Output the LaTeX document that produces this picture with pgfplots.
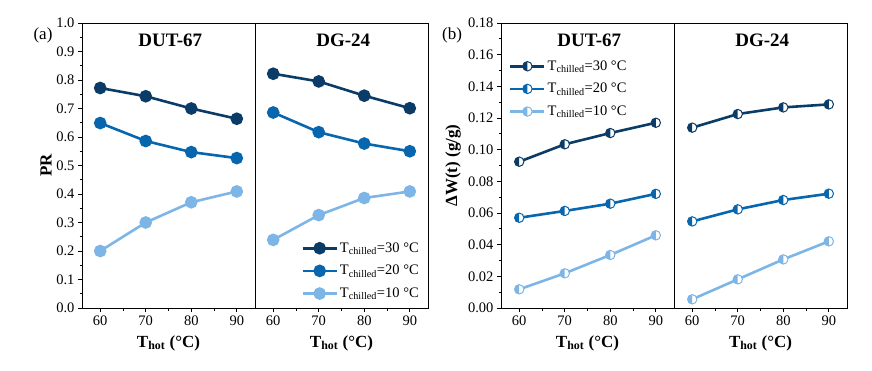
\documentclass[border=0pt]{standalone}
\usepackage{fontspec}
\setmainfont{Liberation Serif}
\usepackage{pgfplots}
\pgfplotsset{compat=1.18}
\usetikzlibrary{plotmarks}
\definecolor{cdark}{HTML}{0B3C68}
\definecolor{cmid}{HTML}{0866AE}
\definecolor{clight}{HTML}{7DB6E6}
\pgfdeclareplotmark{lhalf}{%
  \begin{pgfscope}
  \pgfsetfillcolor{white}
  \pgfpathcircle{\pgfpointorigin}{\pgfplotmarksize}
  \pgfusepath{fill}
  \end{pgfscope}
  \pgfpathmoveto{\pgfqpoint{0pt}{\pgfplotmarksize}}
  \pgfpatharc{90}{270}{\pgfplotmarksize}
  \pgfpathclose
  \pgfusepath{fill}
  \pgfpathcircle{\pgfpointorigin}{\pgfplotmarksize}
  \pgfusepath{stroke}
}
\pgfplotsset{
  sub/.style={scale only axis, width=173pt, height=285pt, xmin=56, xmax=94,
    xtick={60,70,80,90}, minor x tick num=1, tick align=outside,
    xtick pos=left, ytick pos=left,
    major tick length=4pt, minor tick length=2.5pt,
    tick label style={font=\fontsize{14.5}{16}\selectfont},
    /pgf/number format/assume math mode=true,
    axis line style={line width=0.8pt},
    every tick/.style={black, line width=0.8pt},
    xlabel={\textbf{T\textsubscript{hot} (°C)}},
    xlabel style={font=\fontsize{17}{18}\selectfont, at={(axis description cs:0.5,-0.123)}, anchor=center},
    legend style={draw=none, fill=none, font=\fontsize{14.5}{16}\selectfont, row sep=7.5pt, inner sep=1pt},
    legend cell align=left,
    legend image code/.code={\draw[mark repeat=2,mark phase=2] plot coordinates {(0pt,0pt) (17pt,0pt) (34pt,0pt)};},
  },
  pa/.style={sub, ymin=0, ymax=1, ytick={0,0.1,...,1.0}, minor y tick num=1,
    yticklabel style={/pgf/number format/.cd, fixed, fixed zerofill, precision=1}},
  pb/.style={sub, ymin=0, ymax=0.18, ytick={0,0.02,...,0.181}, minor y tick num=1,
    yticklabel style={/pgf/number format/.cd, fixed, fixed zerofill, precision=2}},
  noy/.style={ytick=\empty, minor ytick=\empty},
  sa/.style={line width=2.6pt, mark=*, mark size=5pt, mark options={solid}},
  sb/.style={line width=2.6pt, mark=lhalf, mark size=4.7pt, mark options={solid, line width=1pt, fill=#1, draw=#1}, color=#1},
}
\newcommand{\ttl}[1]{\node[font=\bfseries\fontsize{19}{20}\selectfont] at (rel axis cs:0.51,0.94) {#1};}
\begin{document}
\begin{tikzpicture}
\path[use as bounding box] (0pt,0pt) rectangle (872pt,-370pt);
% panel (a)
\node[font=\fontsize{17}{18}\selectfont] at (43pt,-35pt) {(a)};
\begin{axis}[pa, at={(82pt,-308pt)}, anchor=south west,
  ylabel={\textbf{PR}}, ylabel style={font=\fontsize{17}{18}\selectfont, at={(axis description cs:-0.208,0.5)}, anchor=center}]
\addplot[sa, cdark] coordinates {(60,0.772)(70,0.743)(80,0.700)(90,0.664)};
\addplot[sa, cmid] coordinates {(60,0.649)(70,0.586)(80,0.547)(90,0.526)};
\addplot[sa, clight] coordinates {(60,0.200)(70,0.300)(80,0.371)(90,0.409)};
\ttl{DUT-67}
\end{axis}
\begin{axis}[pa, noy, at={(255pt,-308pt)}, anchor=south west,
  legend style={at={(axis description cs:0.965,0.02)}, anchor=south east}]
\addplot[sa, cdark] coordinates {(60,0.822)(70,0.795)(80,0.745)(90,0.701)};
\addplot[sa, cmid] coordinates {(60,0.686)(70,0.617)(80,0.577)(90,0.550)};
\addplot[sa, clight] coordinates {(60,0.239)(70,0.326)(80,0.386)(90,0.409)};
\legend{T\textsubscript{chilled}=30 °C, T\textsubscript{chilled}=20 °C, T\textsubscript{chilled}=10 °C}
\ttl{DG-24}
\end{axis}
% panel (b)
\node[font=\fontsize{17}{18}\selectfont] at (452pt,-35pt) {(b)};
\begin{axis}[pb, at={(501pt,-308pt)}, anchor=south west,
  ylabel={\textbf{ΔW(t) (g/g)}}, ylabel style={font=\fontsize{17}{18}\selectfont, at={(axis description cs:-0.277,0.5)}, anchor=center},
  legend style={at={(axis description cs:0.04,0.879)}, anchor=north west}]
\addplot[sb=cdark] coordinates {(60,0.0924)(70,0.1034)(80,0.1105)(90,0.1170)};
\addplot[sb=cmid] coordinates {(60,0.0570)(70,0.0613)(80,0.0659)(90,0.0721)};
\addplot[sb=clight] coordinates {(60,0.0118)(70,0.0219)(80,0.0335)(90,0.0459)};
\legend{T\textsubscript{chilled}=30 °C, T\textsubscript{chilled}=20 °C, T\textsubscript{chilled}=10 °C}
\ttl{DUT-67}
\end{axis}
\begin{axis}[pb, noy, at={(674pt,-308pt)}, anchor=south west]
\addplot[sb=cdark] coordinates {(60,0.1139)(70,0.1225)(80,0.1267)(90,0.1286)};
\addplot[sb=cmid] coordinates {(60,0.0547)(70,0.0623)(80,0.0682)(90,0.0722)};
\addplot[sb=clight] coordinates {(60,0.0055)(70,0.0181)(80,0.0307)(90,0.0421)};
\ttl{DG-24}
\end{axis}
\end{tikzpicture}
\end{document}
